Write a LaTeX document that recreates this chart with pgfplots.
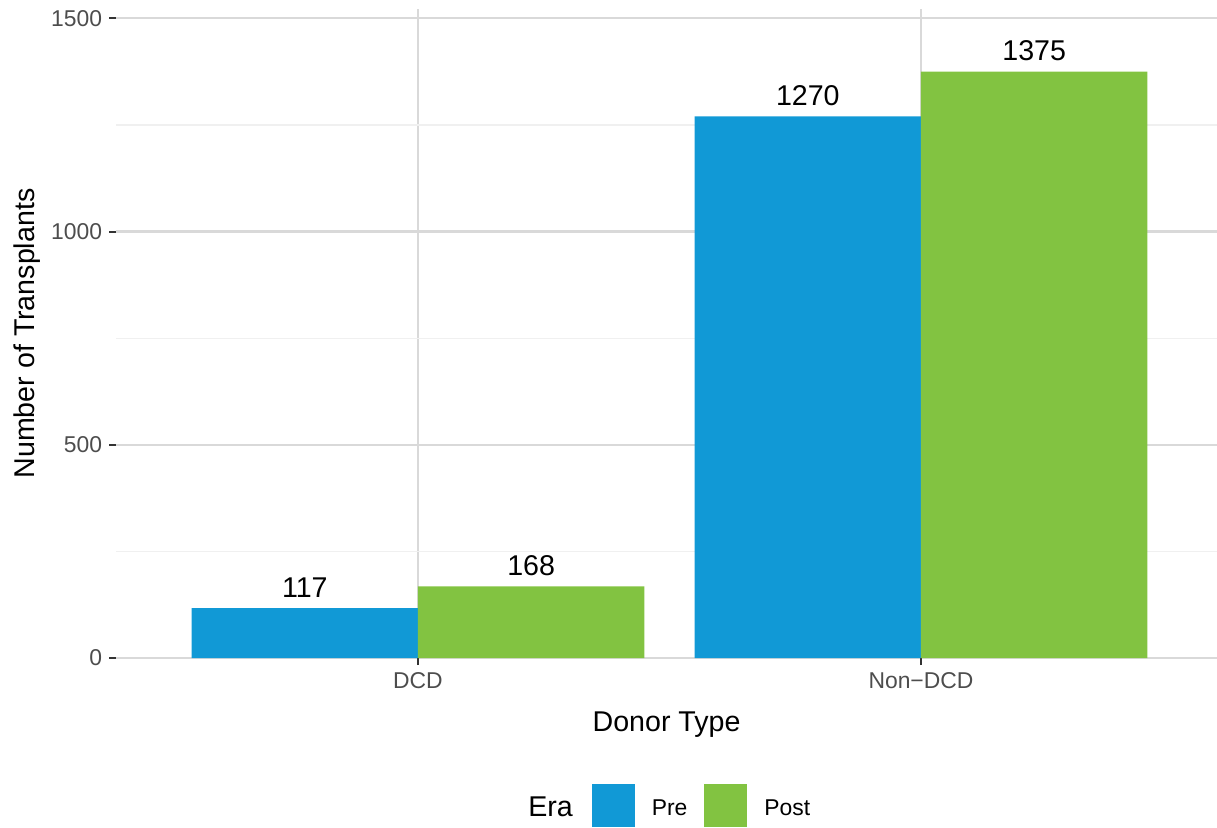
\documentclass[border=0pt]{standalone}
\usepackage{fontspec}
\setmainfont{Liberation Sans}
\usepackage{pgfplots}
\pgfplotsset{compat=1.18}
\definecolor{preblue}{HTML}{1199D6}
\definecolor{postgreen}{HTML}{82C341}
\definecolor{gridmaj}{HTML}{D9D9D9}
\definecolor{gridmin}{HTML}{F0F0F0}
\definecolor{ticklab}{HTML}{4D4D4D}
\definecolor{tickmark}{HTML}{333333}
\begin{document}
\begin{tikzpicture}
\useasboundingbox (-58.1pt,-84.5pt) rectangle (550.4pt,329pt);
\begin{axis}[
  at={(0pt,0pt)}, anchor=south west,
  scale only axis, width=550.4pt, height=324.5pt,
  xmin=0.4, xmax=2.5885, ymin=0, ymax=1522,
  enlargelimits=false,
  axis lines*=left, axis line style={draw=none},
  xtick={1,2}, xticklabels={DCD,Non−DCD},
  ytick={0,500,1000,1500},
  minor ytick={250,750,1250},
  xmajorgrids, ymajorgrids, yminorgrids,
  major grid style={gridmaj, line width=1.1pt},
  minor grid style={gridmin, line width=0.6pt},
  tick align=outside, major tick length=3.5pt, minor tick length=0pt,
  major tick style={tickmark, line width=1pt},
  /pgf/number format/assume math mode=true,
  /pgf/number format/1000 sep={},
  ticklabel style={font=\fontsize{11.44}{13}\selectfont, text=ticklab},
  xlabel={Donor Type}, ylabel={Number of Transplants},
  label style={font=\fontsize{14.3}{16}\selectfont, text=black},
  xlabel style={yshift=-5pt},
  ylabel style={yshift=-1.5pt},
  ybar=0pt, bar width=0.45,
  nodes near coords,
  every node near coord/.append style={font=\fontsize{14.3}{16}\selectfont, text=black, inner sep=0pt, anchor=south, yshift=5.15pt},
  legend columns=-1,
  legend style={at={(0.4321,-0.228)}, anchor=west, draw=none, fill=none,
    inner sep=0pt, outer sep=0pt, column sep=8.5pt,
    nodes={inner sep=0pt},
    font=\fontsize{11.44}{13}\selectfont},
  legend image code/.code={\path[#1, draw=none] (0pt,-8.95pt) rectangle (21.5pt,12.55pt);},
]
\addplot[fill=preblue, draw=none, bar shift=-0.225] coordinates {(1,117) (2,1270)};
\addplot[fill=postgreen, draw=none, bar shift=0.225] coordinates {(1,168) (2,1375)};
\legend{Pre,Post}
\end{axis}
\node[anchor=base east, inner sep=0pt, font=\fontsize{14.3}{16}\selectfont] at (228.55pt,-79.35pt) {Era};
\end{tikzpicture}
\end{document}
